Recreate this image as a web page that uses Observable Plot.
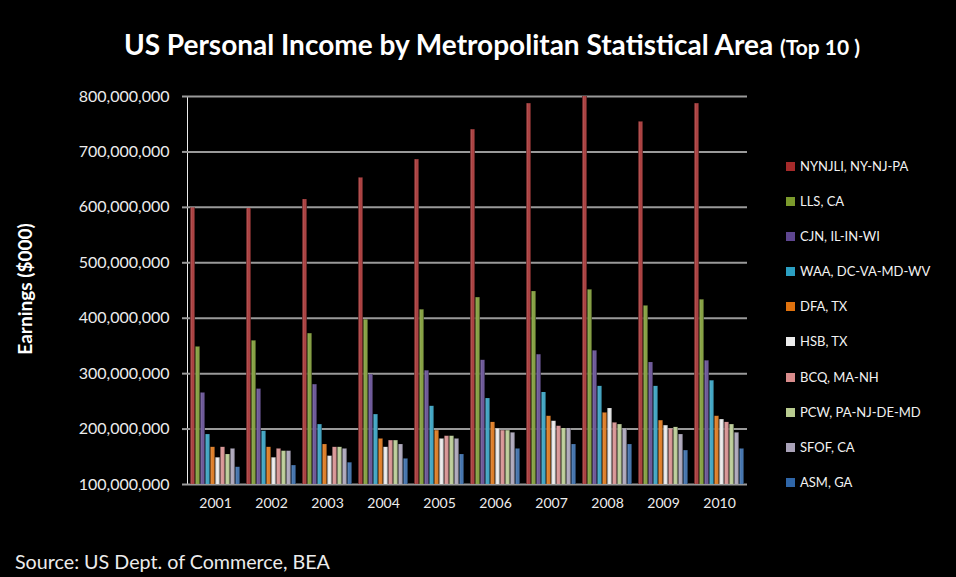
<!DOCTYPE html>
<html>
<head>
<meta charset="utf-8">
<script src="https://cdn.jsdelivr.net/npm/d3@7"></script>
<script src="https://cdn.jsdelivr.net/npm/@observablehq/plot@0.6"></script>
<style>
  html, body { margin: 0; padding: 0; background: #000; }
  #wrap { position: relative; width: 956px; height: 577px; background: #000; font-family: Lato, "Open Sans", sans-serif; color: #f2f2f2; overflow: hidden; }
  #chart { position: absolute; left: 0; top: 0; }
  #title { position: absolute; left: 0; width: 984px; top: 27px; text-align: center; font-weight: bold; font-size: 28px; color: #fff; white-space: nowrap; }
  #title span { font-size: 21px; }
  #ylab { position: absolute; left: 24px; top: 289px; transform: translate(-50%, -50%) rotate(-90deg); font-weight: bold; font-size: 19px; color: #fff; white-space: nowrap; }
  #legend { position: absolute; left: 786px; top: 158px; font-size: 13px; color: #f2f2f2; }
  #legend .row { height: 35.1px; display: flex; align-items: flex-start; white-space: nowrap; }
  #legend .sw { width: 9px; height: 9px; margin-right: 5px; margin-top: 4px; }
  #source { position: absolute; left: 15px; top: 550px; font-size: 19.7px; color: #ececec; white-space: nowrap; }
  #chart svg text { fill: #ececec; }
  g[aria-label^="y-axis"] text { font-size: 16px; }
  g[aria-label^="fx-axis"] text { font-size: 14px; }
  g[aria-label^="y-axis"] line, g[aria-label^="y-axis"] path { stroke: #9a9a9a; stroke-width: 2px; }
</style>
</head>
<body>
<div id="wrap">
  <div id="chart"></div>
  <div id="title">US Personal Income by Metropolitan Statistical Area <span>(Top 10 )</span></div>
  <div id="ylab">Earnings ($000)</div>
  <div id="legend"></div>
  <div id="source">Source: US Dept. of Commerce, BEA</div>
</div>
<script>
// ---- data (values in millions of $000) ----
const years = [2001, 2002, 2003, 2004, 2005, 2006, 2007, 2008, 2009, 2010];
const seriesNames = ["NYNJLI, NY-NJ-PA", "LLS, CA", "CJN, IL-IN-WI", "WAA, DC-VA-MD-WV", "DFA, TX", "HSB, TX", "BCQ, MA-NH", "PCW, PA-NJ-DE-MD", "SFOF, CA", "ASM, GA"];
const seriesColors = ["#a52a2a", "#7b9a2c", "#5e4690", "#2b9fc2", "#e0720e", "#ececec", "#d98c8c", "#b9cc90", "#a9a2b8", "#2f66a8"];
const nynjli = [599, 598, 614, 653, 686, 740, 787, 800, 754, 787];
const lls    = [348, 359, 372, 397, 415, 437, 448, 451, 422, 433];
const cjn    = [265, 272, 280, 298, 305, 324, 334, 341, 320, 323];
const waa    = [190, 196, 208, 226, 241, 255, 266, 277, 277, 287];
const dfa    = [167, 167, 172, 182, 197, 212, 223, 229, 215, 223];
const hsb    = [148, 148, 151, 167, 182, 200, 214, 237, 206, 217];
const bcq    = [167, 164, 167, 179, 187, 197, 205, 211, 200, 212];
const pcw    = [154, 160, 167, 179, 187, 197, 201, 208, 203, 208];
const sfof   = [164, 160, 164, 172, 182, 193, 201, 200, 190, 193];
const asm    = [131, 134, 139, 146, 154, 164, 172, 172, 161, 164];
const yTicks = [100e6, 200e6, 300e6, 400e6, 500e6, 600e6, 700e6, 800e6];

const valueArrays = [nynjli, lls, cjn, waa, dfa, hsb, bcq, pcw, sfof, asm];
const rows = [];
years.forEach((yr, i) => {
  seriesNames.forEach((s, j) => {
    rows.push({year: yr, series: s, value: valueArrays[j][i] * 1e6});
  });
});

const chart = Plot.plot({
  width: 956,
  height: 577,
  marginLeft: 186,
  marginRight: 208,
  marginTop: 96,
  marginBottom: 93,
  style: {background: "transparent", color: "#ececec", fontFamily: "Lato, 'Open Sans', sans-serif"},
  facet: {data: rows, x: "year"},
  fx: {padding: 0, axis: "bottom", label: null, tickSize: 0, tickPadding: 14, tickFormat: d => String(d)},
  x: {axis: null, domain: seriesNames, paddingInner: 0, paddingOuter: 0.55},
  y: {domain: [100e6, 800e6], ticks: yTicks, tickFormat: d3.format(","), label: null, tickSize: 5, tickPadding: 13, line: true},
  color: {domain: seriesNames, range: seriesColors},
  marks: [
    Plot.ruleY(yTicks, {stroke: "#9a9a9a", strokeWidth: 2}),
    Plot.barY(rows, {x: "series", y1: 100e6, y2: "value", fill: "series", insetLeft: 0.2, insetRight: 0.2}),
    Plot.barY(rows, {x: "series", y1: 100e6, y2: "value", fill: "black", insetLeft: 0.2, insetRight: 0.2})
  ]
});

// gradient for a slight cylinder shading
const svg = d3.select(chart);
const defs = svg.insert("defs", ":first-child");
const g = defs.append("linearGradient").attr("id", "shade").attr("x1", 0).attr("x2", 1).attr("y1", 0).attr("y2", 0);
g.append("stop").attr("offset", "0%").attr("stop-color", "#000").attr("stop-opacity", 0.5);
g.append("stop").attr("offset", "35%").attr("stop-color", "#fff").attr("stop-opacity", 0.18);
g.append("stop").attr("offset", "60%").attr("stop-color", "#fff").attr("stop-opacity", 0.05);
g.append("stop").attr("offset", "100%").attr("stop-color", "#000").attr("stop-opacity", 0.55);
svg.selectAll('g[fill="black"]').attr("fill", "url(#shade)");

document.getElementById("chart").appendChild(chart);

// legend
const legend = d3.select("#legend");
seriesNames.forEach((s, j) => {
  const r = legend.append("div").attr("class", "row");
  r.append("div").attr("class", "sw").style("background", seriesColors[j]);
  r.append("div").text(s);
});
</script>
</body>
</html>
